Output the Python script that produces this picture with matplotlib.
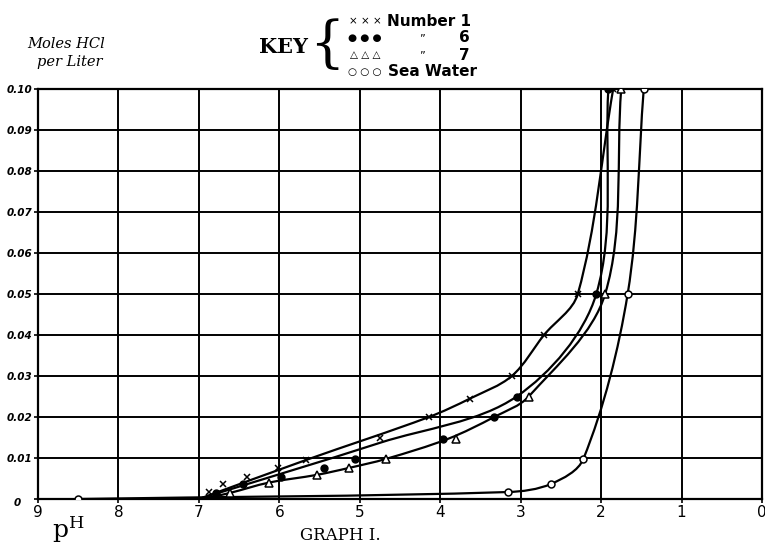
import numpy as np
import matplotlib
matplotlib.use("Agg")
import matplotlib.pyplot as plt
from matplotlib.path import Path
from matplotlib.patches import PathPatch
from matplotlib.transforms import ScaledTranslation

ph_1 = [6.87, 6.70, 6.40, 6.02, 5.67, 4.75, 4.14, 3.63, 3.11, 2.71, 2.29, 1.85]
mol_1 = [0.0017, 0.0037, 0.0054, 0.0076, 0.0095, 0.015, 0.020, 0.0245, 0.030, 0.040, 0.050, 0.100]
ph_6 = [6.79, 6.45, 5.98, 5.44, 5.06, 3.97, 3.33, 3.05, 2.06, 1.91]
mol_6 = [0.0015, 0.0037, 0.0054, 0.0076, 0.0098, 0.0146, 0.020, 0.025, 0.050, 0.100]
ph_7 = [6.61, 6.13, 5.53, 5.13, 4.67, 3.80, 2.90, 1.95, 1.75]
mol_7 = [0.0015, 0.004, 0.0059, 0.0076, 0.0098, 0.0147, 0.025, 0.050, 0.100]
ph_sea = [8.50, 3.16, 2.62, 2.22, 1.67, 1.47]
mol_sea = [0.0, 0.0017, 0.0037, 0.0098, 0.050, 0.100]

# the hand drawn curves (they do not pass through every point)
curve_1_ph = [7.0, 5.67, 4.14, 3.63, 3.11, 2.71, 2.29, 1.85]
curve_1_mol = [0.0, 0.0095, 0.020, 0.0245, 0.030, 0.040, 0.050, 0.100]
curve_6_ph = [7.0, 4.75, 3.05, 2.06, 1.91]
curve_6_mol = [0.0, 0.0137, 0.025, 0.050, 0.100]
curve_7_ph = [6.95, 6.61, 6.13, 5.53, 5.13, 4.67, 3.90, 3.33, 2.90, 1.95, 1.75]
curve_7_mol = [0.0, 0.0015, 0.004, 0.0059, 0.0076, 0.0098, 0.0147, 0.020, 0.025, 0.050, 0.100]

x_ticks = [9, 8, 7, 6, 5, 4, 3, 2, 1, 0]
y_ticks = [0, 0.01, 0.02, 0.03, 0.04, 0.05, 0.06, 0.07, 0.08, 0.09, 0.10]
y_labels = ["0", "0.01", "0.02", "0.03", "0.04", "0.05", "0.06", "0.07", "0.08", "0.09", "0.10"]


def smooth_path(xs, ys, sx=80.4, sy=4100.0):
    # bezier through the points, tangents weighted by chord length
    p = np.column_stack([xs, ys]).astype(float)
    n = len(p)
    def dist(a, b):
        return np.hypot((a[0]-b[0])*sx, (a[1]-b[1])*sy)
    tang = []
    for i in range(n):
        if i == 0:
            tang.append((p[1]-p[0]) / dist(p[0], p[1]))
        elif i == n-1:
            tang.append((p[-1]-p[-2]) / dist(p[-1], p[-2]))
        else:
            tang.append((p[i+1]-p[i-1]) / (dist(p[i-1], p[i]) + dist(p[i], p[i+1])))
    verts = [p[0]]
    codes = [Path.MOVETO]
    for i in range(n-1):
        d = dist(p[i], p[i+1])
        verts += [p[i] + tang[i]*d/3, p[i+1] - tang[i+1]*d/3, p[i+1]]
        codes += [Path.CURVE4]*3
    return Path(verts, codes)


fig = plt.figure(figsize=(7.65, 5.45), dpi=100)
ax = fig.add_axes([38/765, 46/545, 724/765, 410/545])

ax.set_xlim(9, 0)
ax.set_ylim(0, 0.10)
ax.set_xticks(x_ticks)
ax.set_xticklabels([str(t) for t in x_ticks], fontsize=11)
ax.set_yticks(y_ticks)
ax.set_yticklabels(y_labels, fontsize=7.5, style="italic", fontweight="bold")
ax.tick_params(length=3, width=1.2, pad=1, color="black")
ax.grid(True, color="black", linewidth=1.4)
for s in ax.spines.values():
    s.set_linewidth(1.6)
# the "0" label sits further out and a bit low
zero = ax.get_yticklabels()[0]
zero.set_transform(zero.get_transform() + ScaledTranslation(-0.12, -0.03, fig.dpi_scale_trans))

for cx, cy in [(curve_1_ph, curve_1_mol), (curve_6_ph, curve_6_mol),
               (curve_7_ph, curve_7_mol), (ph_sea, mol_sea)]:
    ax.add_patch(PathPatch(smooth_path(cx, cy), fill=False, edgecolor="black",
                           linewidth=1.6, zorder=3))

ax.plot(ph_1, mol_1, "x", color="black", ms=5, mew=1.1, zorder=4)
ax.plot(ph_6, mol_6, "o", color="black", ms=5, zorder=4)
ax.plot(ph_7, mol_7, "^", mfc="white", mec="black", ms=5.5, mew=1.1, zorder=4)
ax.plot(ph_sea, mol_sea, "o", mfc="white", mec="black", ms=5, mew=1.1, zorder=4)

# header
fig.text(66/765, 1-44/545, "Moles HCl", fontsize=10.5, family="DejaVu Serif",
         style="italic", ha="center", va="center")
fig.text(70/765, 1-62/545, "per Liter", fontsize=10.5, family="DejaVu Serif",
         style="italic", ha="center", va="center")
fig.text(284/765, 1-47/545, "KEY", fontsize=15, family="DejaVu Serif",
         fontweight="bold", ha="center", va="center")
fig.text(327/765, 1-46/545, "{", fontsize=40, family="DejaVu Serif",
         ha="center", va="center")

key_rows = [21, 38, 55, 72]
key_marks = ["\u00d7 \u00d7 \u00d7", "\u25cf \u25cf \u25cf", "\u25b3 \u25b3 \u25b3", "\u25cb \u25cb \u25cb"]
for yy, m in zip(key_rows, key_marks):
    fig.text(365/765, 1-yy/545, m, fontsize=7.5, ha="center", va="center")
fig.text(387/765, 1-key_rows[0]/545, "Number 1", fontsize=11, fontweight="bold",
         ha="left", va="center")
for yy, num in zip(key_rows[1:3], ["6", "7"]):
    fig.text(422/765, 1-yy/545, "\u201d", fontsize=8, ha="center", va="center")
    fig.text(470/765, 1-yy/545, num, fontsize=11, fontweight="bold",
             ha="right", va="center")
fig.text(388/765, 1-key_rows[3]/545, "Sea Water", fontsize=11, fontweight="bold",
         ha="left", va="center")

# footer
fig.text(68/765, 1-530/545, r"$\mathrm{p}^{\mathrm{H}}$", fontsize=18,
         ha="center", va="center", math_fontfamily="dejavuserif")
fig.text(340/765, 1-535/545, "GRAPH I.", fontsize=12, family="DejaVu Serif",
         ha="center", va="center")

fig.savefig("out.png", dpi=100)
